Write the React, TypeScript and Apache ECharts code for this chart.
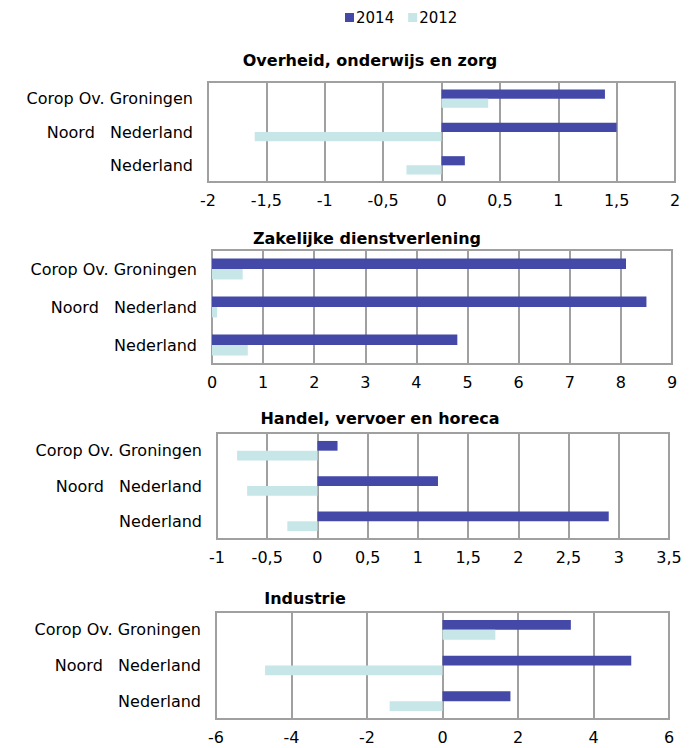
import React, { useEffect, useRef } from "react";
import * as echarts from "echarts";

const categories = ["Nederland", "Noord   Nederland", "Corop Ov. Groningen"];
const seriesNames = ["2014", "2012"];
const panelTitles = [
  "Overheid, onderwijs en zorg",
  "Zakelijke dienstverlening",
  "Handel, vervoer en horeca",
  "Industrie",
];
// values ordered as categories (bottom to top)
const overheid2014 = [0.2, 1.5, 1.4];
const overheid2012 = [-0.3, -1.6, 0.4];
const zakelijk2014 = [4.8, 8.5, 8.1];
const zakelijk2012 = [0.7, 0.1, 0.6];
const handel2014 = [2.9, 1.2, 0.2];
const handel2012 = [-0.3, -0.7, -0.8];
const industrie2014 = [1.8, 5.0, 3.4];
const industrie2012 = [-1.4, -4.7, 1.4];
const axisRanges = [
  { min: -2, max: 2, interval: 0.5 },
  { min: 0, max: 9, interval: 1 },
  { min: -1, max: 3.5, interval: 0.5 },
  { min: -6, max: 6, interval: 2 },
];

const FONT = "DejaVu Sans, Verdana, sans-serif";
const C2014 = "#4449A8";
const C2012 = "#C6E6E8";
const GRIDC = "#A0A0A0";

const grids = [
  { left: 208, top: 82, width: 467, height: 100 },
  { left: 212, top: 250, width: 460, height: 114 },
  { left: 217, top: 433, width: 452, height: 106 },
  { left: 216, top: 612, width: 453, height: 107 },
];
const titlePos = [
  { x: 370, y: 60 },
  { x: 367, y: 238 },
  { x: 380, y: 418 },
  { x: 305, y: 598 },
];

export default function App() {
  const ref = useRef<HTMLDivElement>(null);
  useEffect(() => {
    if (!ref.current) return;
    const chart = echarts.init(ref.current, undefined, { renderer: "svg" });
    const data2014 = [overheid2014, zakelijk2014, handel2014, industrie2014];
    const data2012 = [overheid2012, zakelijk2012, handel2012, industrie2012];
    const series: any[] = [];
    for (let i = 0; i < 4; i++) {
      series.push({
        name: seriesNames[0],
        type: "bar",
        xAxisIndex: i,
        yAxisIndex: i,
        data: data2014[i],
        itemStyle: { color: C2014 },
        barGap: "0%",
        barCategoryGap: "45%",
      });
      series.push({
        name: seriesNames[1],
        type: "bar",
        xAxisIndex: i,
        yAxisIndex: i,
        data: data2012[i],
        itemStyle: { color: C2012 },
        barGap: "0%",
        barCategoryGap: "45%",
      });
    }
    chart.setOption({
      animation: false,
      backgroundColor: "#fff",
      textStyle: { fontFamily: FONT },
      legend: {
        data: [seriesNames[0], seriesNames[1]],
        left: 340,
        top: 5,
        icon: "rect",
        itemWidth: 9,
        itemHeight: 9,
        itemGap: 14,
        textStyle: { fontSize: 15, color: "#000", fontFamily: FONT, padding: [0, 0, 0, -3] },
      },
      grid: grids.map((g) => ({
        ...g,
        show: true,
        borderColor: GRIDC,
        borderWidth: 2,
        backgroundColor: "#fff",
        containLabel: false,
      })),
      xAxis: axisRanges.map((r, i) => ({
        type: "value",
        gridIndex: i,
        min: r.min,
        max: r.max,
        interval: r.interval,
        axisLine: { show: false },
        axisTick: { show: false },
        splitLine: { show: true, lineStyle: { color: GRIDC, width: 2 } },
        axisLabel: {
          fontSize: 16,
          color: "#000",
          fontFamily: FONT,
          margin: 10,
          formatter: (v: number) => String(v).replace(".", ","),
        },
      })),
      yAxis: axisRanges.map((_, i) => ({
        type: "category",
        gridIndex: i,
        data: categories,
        axisLine: { show: false },
        axisTick: { show: false },
        splitLine: { show: false },
        axisLabel: { fontSize: 16, color: "#000", fontFamily: FONT, margin: 15 },
      })),
      graphic: panelTitles.map((t, i) => ({
        type: "text",
        x: titlePos[i].x,
        y: titlePos[i].y,
        style: {
          text: t,
          textAlign: "center",
          textVerticalAlign: "middle",
          font: `bold 16px ${FONT}`,
          fill: "#000",
        },
      })),
      series,
    });
    return () => chart.dispose();
  }, []);
  return (
    <div
      ref={ref}
      style={{ position: "absolute", left: 0, top: 0, width: 695, height: 748 }}
    />
  );
}
